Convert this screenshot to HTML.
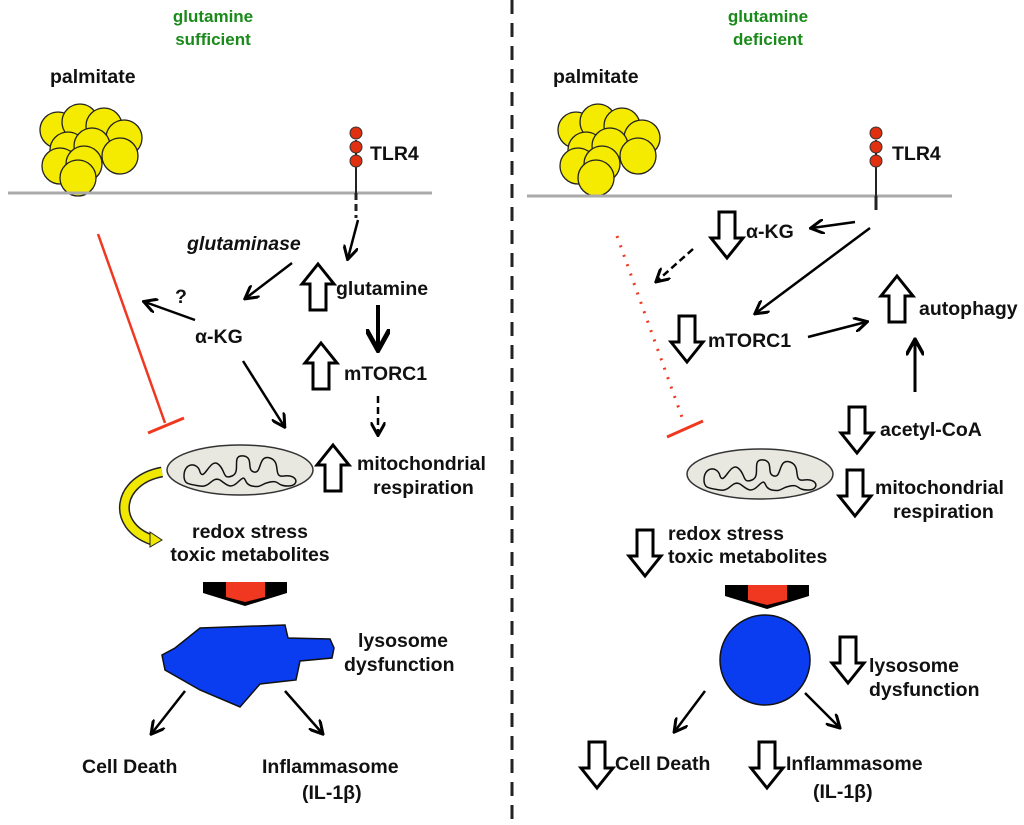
<!DOCTYPE html>
<html><head><meta charset="utf-8"><style>
html,body{margin:0;padding:0;background:#fff}
svg{display:block}
text{font-family:"Liberation Sans",sans-serif;font-weight:bold;font-size:19.5px;fill:#111}
.t{fill:#1a8a1a;font-size:17px}
</style></head><body>
<svg width="1024" height="825" viewBox="0 0 1024 825" xmlns="http://www.w3.org/2000/svg">
<defs>
<marker id="ah" viewBox="0 0 10 10" refX="8" refY="5" markerWidth="6" markerHeight="6" orient="auto"><path d="M0,0 L9,5 L0,10" fill="none" stroke="#000" stroke-width="2"/></marker>
<polygon id="up" points="0,0 16,20 8,20 8,46 -8,46 -8,20 -16,20" fill="#fff" stroke="#000" stroke-width="3" stroke-linejoin="miter"/>
<g id="balls" fill="#f5eb00" stroke="#222" stroke-width="1.3">
<circle cx="20" cy="22" r="18"/><circle cx="42" cy="14" r="18"/><circle cx="66" cy="18" r="18"/><circle cx="86" cy="30" r="18"/>
<circle cx="30" cy="42" r="18"/><circle cx="54" cy="38" r="18"/><circle cx="82" cy="48" r="18"/>
<circle cx="22" cy="58" r="18"/><circle cx="46" cy="56" r="18"/><circle cx="40" cy="70" r="18"/>
</g>
<g id="mito">
<ellipse cx="0" cy="0" rx="73" ry="25" fill="#e8e8e0" stroke="#333" stroke-width="1.5"/>
<path d="M-56,6 C-56,-8 -42,-8 -40,2 C-36,12 -30,-12 -22,-6 C-14,0 -18,10 -8,6 C2,2 -10,-16 4,-14 C14,-12 6,0 14,2 C22,4 18,-16 30,-12 C42,-8 32,8 44,6 C58,4 60,16 48,16 C36,16 40,10 30,12 C20,14 22,18 12,16 C2,14 8,2 -2,12 C-10,20 -14,14 -20,10 C-28,6 -30,18 -40,16 C-52,14 -56,14 -56,6 Z" fill="none" stroke="#111" stroke-width="1.5"/>
</g>
</defs>

<line x1="512" y1="0" x2="512" y2="825" stroke="#222" stroke-width="3" stroke-dasharray="14,9"/>

<!-- LEFT -->
<text class="t" x="213" y="22" text-anchor="middle">glutamine</text>
<text class="t" x="213" y="45" text-anchor="middle">sufficient</text>
<text x="50" y="83" font-size="17">palmitate</text>
<use href="#balls" transform="translate(38,108)"/>
<line x1="8" y1="193" x2="432" y2="193" stroke="#aaa" stroke-width="3"/>
<line x1="356" y1="140" x2="356" y2="193" stroke="#222" stroke-width="2"/>
<g fill="#e03010" stroke="#333"><circle cx="356" cy="133" r="6"/><circle cx="356" cy="147" r="6"/><circle cx="356" cy="161" r="6"/></g>
<text x="370" y="160" font-size="17">TLR4</text>
<line x1="356" y1="193" x2="356" y2="218" stroke="#222" stroke-width="3" stroke-dasharray="7,4"/>
<line x1="358" y1="220" x2="348" y2="258" stroke="#000" stroke-width="2.5" marker-end="url(#ah)"/>
<text x="187" y="250" font-style="italic">glutaminase</text>
<line x1="292" y1="263" x2="246" y2="298" stroke="#000" stroke-width="2.5" marker-end="url(#ah)"/>
<use href="#up" transform="translate(318,264)"/>
<text x="336" y="295">glutamine</text>
<line x1="378" y1="305" x2="378" y2="348" stroke="#000" stroke-width="4" marker-end="url(#ah)"/>
<use href="#up" transform="translate(321,343)"/>
<text x="344" y="380">mTORC1</text>
<line x1="378" y1="396" x2="378" y2="434" stroke="#000" stroke-width="2.5" stroke-dasharray="7,4" marker-end="url(#ah)"/>
<use href="#up" transform="translate(333,445)"/>
<text x="357" y="470">mitochondrial</text>
<text x="373" y="494">respiration</text>
<text x="175" y="303" font-size="16">?</text>
<line x1="195" y1="320" x2="145" y2="302" stroke="#000" stroke-width="2.5" marker-end="url(#ah)"/>
<text x="195" y="343">α-KG</text>
<line x1="243" y1="361" x2="284" y2="426" stroke="#000" stroke-width="2.5" marker-end="url(#ah)"/>
<line x1="98" y1="234" x2="165" y2="423" stroke="#f03820" stroke-width="2.5"/>
<line x1="148" y1="433" x2="184" y2="418" stroke="#f03820" stroke-width="3"/>
<use href="#mito" transform="translate(240,470)"/>
<path d="M162,472 C118,480 110,525 152,540" fill="none" stroke="#222" stroke-width="11"/>
<path d="M162,472 C118,480 110,525 152,540" fill="none" stroke="#f0e800" stroke-width="8"/>
<polygon points="150,532 162,540 150,547" fill="#f0e800" stroke="#222" stroke-width="1"/>
<text x="250" y="538" text-anchor="middle">redox stress</text>
<text x="250" y="561" text-anchor="middle">toxic metabolites</text>
<polygon points="203,582 287,582 287,593 245,606 203,593" fill="#000"/>
<polygon points="226,582 265,582 265,597 245,602 226,597" fill="#f03820"/>
<path d="M200,628 L285,625 L288,638 L330,639 L334,648 L332,658 L300,661 L296,680 L260,684 L240,707 L200,690 L165,670 L162,655 L175,648 Z" fill="#0a3cf0" stroke="#111" stroke-width="1.5"/>
<text x="358" y="647">lysosome</text>
<text x="344" y="671">dysfunction</text>
<line x1="185" y1="691" x2="152" y2="733" stroke="#000" stroke-width="2.5" marker-end="url(#ah)"/>
<line x1="285" y1="691" x2="322" y2="733" stroke="#000" stroke-width="2.5" marker-end="url(#ah)"/>
<text x="82" y="773">Cell Death</text>
<text x="262" y="773">Inflammasome</text>
<text x="302" y="799">(IL-1β)</text>

<!-- RIGHT -->
<text class="t" x="768" y="22" text-anchor="middle">glutamine</text>
<text class="t" x="768" y="45" text-anchor="middle">deficient</text>
<text x="553" y="83" font-size="17">palmitate</text>
<use href="#balls" transform="translate(556,108)"/>
<line x1="527" y1="196" x2="952" y2="196" stroke="#aaa" stroke-width="3"/>
<line x1="876" y1="140" x2="876" y2="196" stroke="#222" stroke-width="2"/>
<g fill="#e03010" stroke="#333"><circle cx="876" cy="133" r="6"/><circle cx="876" cy="147" r="6"/><circle cx="876" cy="161" r="6"/></g>
<text x="892" y="160" font-size="17">TLR4</text>
<line x1="876" y1="196" x2="876" y2="210" stroke="#222" stroke-width="3"/>
<use href="#up" transform="translate(727,258) scale(1,-1)"/>
<text x="746" y="238">α-KG</text>
<line x1="855" y1="222" x2="812" y2="228" stroke="#000" stroke-width="2.5" marker-end="url(#ah)"/>
<line x1="870" y1="228" x2="756" y2="313" stroke="#000" stroke-width="2.5" marker-end="url(#ah)"/>
<line x1="693" y1="249" x2="657" y2="281" stroke="#000" stroke-width="2.5" stroke-dasharray="7,4" marker-end="url(#ah)"/>
<line x1="617" y1="236" x2="683" y2="420" stroke="#f03820" stroke-width="3" stroke-dasharray="2,8"/>
<line x1="667" y1="437" x2="703" y2="421" stroke="#f03820" stroke-width="3"/>
<use href="#up" transform="translate(687,362) scale(1,-1)"/>
<text x="708" y="347">mTORC1</text>
<line x1="808" y1="337" x2="866" y2="322" stroke="#000" stroke-width="2.5" marker-end="url(#ah)"/>
<use href="#up" transform="translate(897,276)"/>
<text x="919" y="315">autophagy</text>
<line x1="915" y1="392" x2="915" y2="341" stroke="#000" stroke-width="3" marker-end="url(#ah)"/>
<use href="#up" transform="translate(857,453) scale(1,-1)"/>
<text x="880" y="436">acetyl-CoA</text>
<use href="#mito" transform="translate(760,474)"/>
<use href="#up" transform="translate(855,516) scale(1,-1)"/>
<text x="875" y="494">mitochondrial</text>
<text x="893" y="518">respiration</text>
<use href="#up" transform="translate(645,576) scale(1,-1)"/>
<text x="668" y="540">redox stress</text>
<text x="668" y="563">toxic metabolites</text>
<polygon points="725,585 809,585 809,596 767,609 725,596" fill="#000"/>
<polygon points="748,585 787,585 787,600 767,605 748,600" fill="#f03820"/>
<circle cx="765" cy="660" r="45" fill="#0a3cf0" stroke="#111" stroke-width="1.5"/>
<use href="#up" transform="translate(848,683) scale(1,-1)"/>
<text x="869" y="672">lysosome</text>
<text x="869" y="696">dysfunction</text>
<line x1="705" y1="691" x2="675" y2="731" stroke="#000" stroke-width="2.5" marker-end="url(#ah)"/>
<line x1="805" y1="693" x2="839" y2="727" stroke="#000" stroke-width="2.5" marker-end="url(#ah)"/>
<use href="#up" transform="translate(597,788) scale(1,-1)"/>
<text x="615" y="770">Cell Death</text>
<use href="#up" transform="translate(767,788) scale(1,-1)"/>
<text x="786" y="770">Inflammasome</text>
<text x="813" y="798">(IL-1β)</text>
</svg>
</body></html>
